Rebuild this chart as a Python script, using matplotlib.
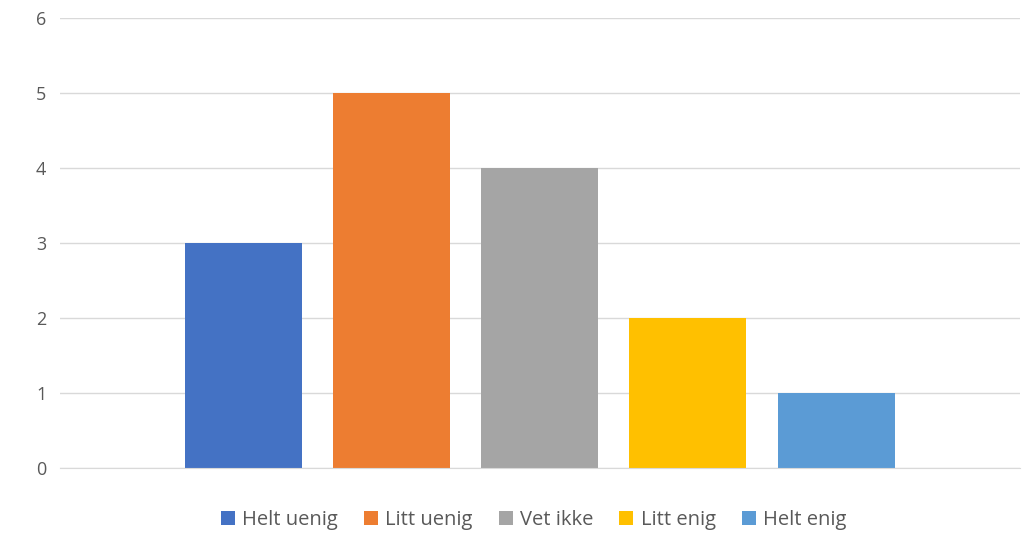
import matplotlib.pyplot as plt
from matplotlib.patches import Patch

categories = ["Helt uenig", "Litt uenig", "Vet ikke", "Litt enig", "Helt enig"]
values = [3, 5, 4, 2, 1]
colors = ["#4472C4", "#ED7D31", "#A5A5A5", "#FFC000", "#5B9BD5"]
y_ticks = [0, 1, 2, 3, 4, 5, 6]

plt.rcParams['font.family'] = ['Open Sans', 'DejaVu Sans']

fig = plt.figure(figsize=(10.3, 5.36), dpi=100)
ax = fig.add_axes([0.0583, 0.1269, 0.9317, 0.8395])

x = range(len(categories))
ax.bar(x, values, width=0.79, color=colors, zorder=3)

ax.set_xlim(-1.24, 5.24)
ax.set_ylim(0, 6)
ax.set_yticks(y_ticks)
ax.set_xticks([])
ax.yaxis.grid(True, color="#d9d9d9", linewidth=1, zorder=0)
for s in ["top", "right", "left"]:
    ax.spines[s].set_visible(False)
ax.spines["bottom"].set_color("#d9d9d9")
ax.spines["bottom"].set_zorder(4)
ax.tick_params(axis="y", length=0, pad=10, labelsize=13, labelcolor="#595959")

handles = [Patch(facecolor=c, label=l) for c, l in zip(colors, categories)]
fig.legend(handles=handles, loc="center", bbox_to_anchor=(0.518, 0.029),
           ncol=5, frameon=False, handlelength=0.7, handleheight=0.7,
           handletextpad=0.35, columnspacing=1.3, fontsize=14.5,
           labelcolor="#595959")

fig.savefig("out.png", dpi=100)
